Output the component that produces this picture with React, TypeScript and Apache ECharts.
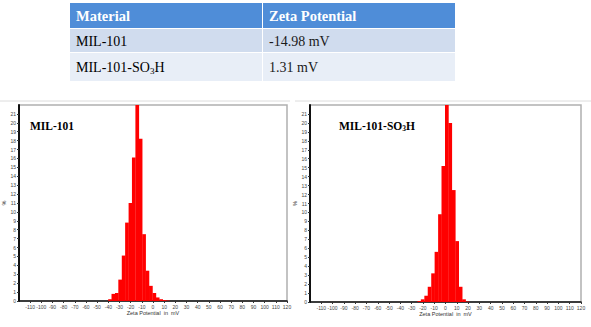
import React, { useEffect, useRef } from "react";
import * as echarts from "echarts";

// ---- data ----
const tableHeader = ["Material", "Zeta Potential"];
const materials = ["MIL-101", "MIL-101-SO3H"];
const potentials = ["-14.98 mV", "1.31 mV"];

const chartTitles = ["MIL-101", "MIL-101-SO3H"];

// bin centres (mV) and percentages
const mil101X = [-38.5, -35.5, -32.4, -29.4, -26.3, -23.3, -20.2, -17.2, -14.1, -11.1, -8.0, -5.0, -1.9, 1.2, 4.2, 7.3, 10.3, 13.4];
const mil101Y = [0.2, 0.8, 0.9, 2.4, 5.1, 8.8, 11.0, 16.1, 22.5, 18.2, 7.5, 3.4, 1.7, 0.9, 0.4, 0.2, 0.1, 0.05];

const so3hX = [-23.2, -20.2, -17.1, -14.1, -11.0, -8.0, -4.9, -1.9, 1.2, 4.2, 7.3, 10.3, 13.4, 16.4, 19.5];
const so3hY = [0.1, 0.3, 0.7, 1.7, 3.2, 5.6, 9.8, 15.2, 22.5, 20.0, 12.5, 6.8, 1.7, 0.3, 0.05];

const xAxisTitle = "Zeta Potential  in  mV";
const yAxisTitle = "%";

const SERIF = "Liberation Serif";
const SANS = "Liberation Sans";

function richText(s: string) {
  return `{a|${s.replace("SO3H", "SO}{sub|3}{a|H")}}`;
}

export default function App() {
  const ref = useRef<HTMLDivElement>(null);

  useEffect(() => {
    document.body.style.margin = "0";
    const chart = echarts.init(ref.current!, null, { renderer: "svg" });

    const grids = [
      { left: 16, top: 105, width: 271, height: 196 },
      { left: 310, top: 105, width: 271, height: 197 },
    ];

    const xAxisBase = (gi: number) => ({
      type: "value",
      gridIndex: gi,
      min: -120,
      max: 120,
      interval: 10,
      name: xAxisTitle,
      nameLocation: "middle",
      nameGap: 9,
      nameMoveOverlap: false,
      nameTextStyle: { fontSize: 5.5, color: "#333", fontFamily: SANS },
      axisLine: { onZero: false, lineStyle: { color: "#111", width: 1.5 } },
      axisTick: { length: 2, lineStyle: { color: "#333" } },
      axisLabel: { fontSize: 5, color: "#444", margin: 3, fontFamily: SANS, showMinLabel: false },
      splitLine: { show: false },
    });

    const yAxisBase = (gi: number) => ({
      type: "value",
      gridIndex: gi,
      min: 0,
      max: 22,
      interval: 1,
      name: yAxisTitle,
      nameLocation: "middle",
      nameGap: 12,
      nameMoveOverlap: false,
      nameTextStyle: { fontSize: 5.5, color: "#333", fontFamily: SANS },
      axisLine: { onZero: false, lineStyle: { color: "#111", width: 2 } },
      axisTick: { length: 2, lineStyle: { color: "#333" } },
      axisLabel: { fontSize: 5, color: "#444", margin: 3, fontFamily: SANS, showMaxLabel: false },
      splitLine: { show: false },
    });

    const tableX = 70, col2X = 263, tableR = 455;
    const rowsY = [3, 29, 53];
    const rowsH = [25, 23, 28];
    const rowFill = ["#4f8dd8", "#d0dcee", "#e8eef7"];

    const graphics: any[] = [];
    rowsY.forEach((y, i) => {
      graphics.push({ type: "rect", shape: { x: tableX, y, width: col2X - 1 - tableX, height: rowsH[i] }, style: { fill: rowFill[i] } });
      graphics.push({ type: "rect", shape: { x: col2X, y, width: tableR - col2X, height: rowsH[i] }, style: { fill: rowFill[i] } });
    });
    // header
    const headerX = [76, 269];
    tableHeader.forEach((h, i) => {
      graphics.push({
        type: "text", x: headerX[i], y: 16,
        style: { text: h, fill: "#fff", fontFamily: SERIF, fontWeight: "bold", fontSize: 14.5, verticalAlign: "middle" },
      });
    });
    const rowTextY = [41, 67];
    materials.forEach((m, i) => {
      graphics.push({
        type: "text", x: 76, y: rowTextY[i],
        style: {
          text: richText(m),
          verticalAlign: "middle",
          rich: {
            a: { fontSize: 14, fontFamily: SERIF, color: "#1a1a1a" },
            sub: { fontSize: 9, fontFamily: SERIF, color: "#1a1a1a", padding: [7, 0, 0, 0] },
          },
        },
      });
      graphics.push({
        type: "text", x: 269, y: rowTextY[i],
        style: { text: potentials[i], fill: "#1a1a1a", fontFamily: SERIF, fontSize: 14, verticalAlign: "middle" },
      });
    });
    // faint separator lines above charts
    graphics.push({ type: "line", shape: { x1: 0, y1: 101, x2: 290, y2: 101 }, style: { stroke: "#dcdcdc", lineWidth: 1 } });
    graphics.push({ type: "line", shape: { x1: 295, y1: 101, x2: 591, y2: 101 }, style: { stroke: "#dcdcdc", lineWidth: 1 } });
    // chart titles
    const titleX = [30, 339];
    chartTitles.forEach((t, i) => {
      graphics.push({
        type: "text", x: titleX[i], y: 126, z: 10,
        style: {
          text: richText(t),
          verticalAlign: "middle",
          rich: {
            a: { fontSize: 11.5, fontWeight: "bold", fontFamily: SERIF, color: "#111" },
            sub: { fontSize: 7.5, fontWeight: "bold", fontFamily: SERIF, color: "#111", padding: [5, 0, 0, 0] },
          },
        },
      });
    });

    chart.setOption({
      animation: false,
      backgroundColor: "#fff",
      grid: grids.map((g) => ({ ...g, show: true, borderColor: "#b0b0b0", borderWidth: 1.5, backgroundColor: "transparent" })),
      xAxis: [xAxisBase(0), xAxisBase(1)],
      yAxis: [yAxisBase(0), yAxisBase(1)],
      series: [
        {
          type: "bar", xAxisIndex: 0, yAxisIndex: 0, barWidth: 3.7, clip: true,
          itemStyle: { color: "#ff0000" },
          data: mil101X.map((x, i) => [x, mil101Y[i]]),
        },
        {
          type: "bar", xAxisIndex: 1, yAxisIndex: 1, barWidth: 3.7, clip: true,
          itemStyle: { color: "#ff0000" },
          data: so3hX.map((x, i) => [x, so3hY[i]]),
        },
      ],
      graphic: graphics,
    });

    return () => chart.dispose();
  }, []);

  return <div ref={ref} style={{ width: 591, height: 327 }} />;
}
